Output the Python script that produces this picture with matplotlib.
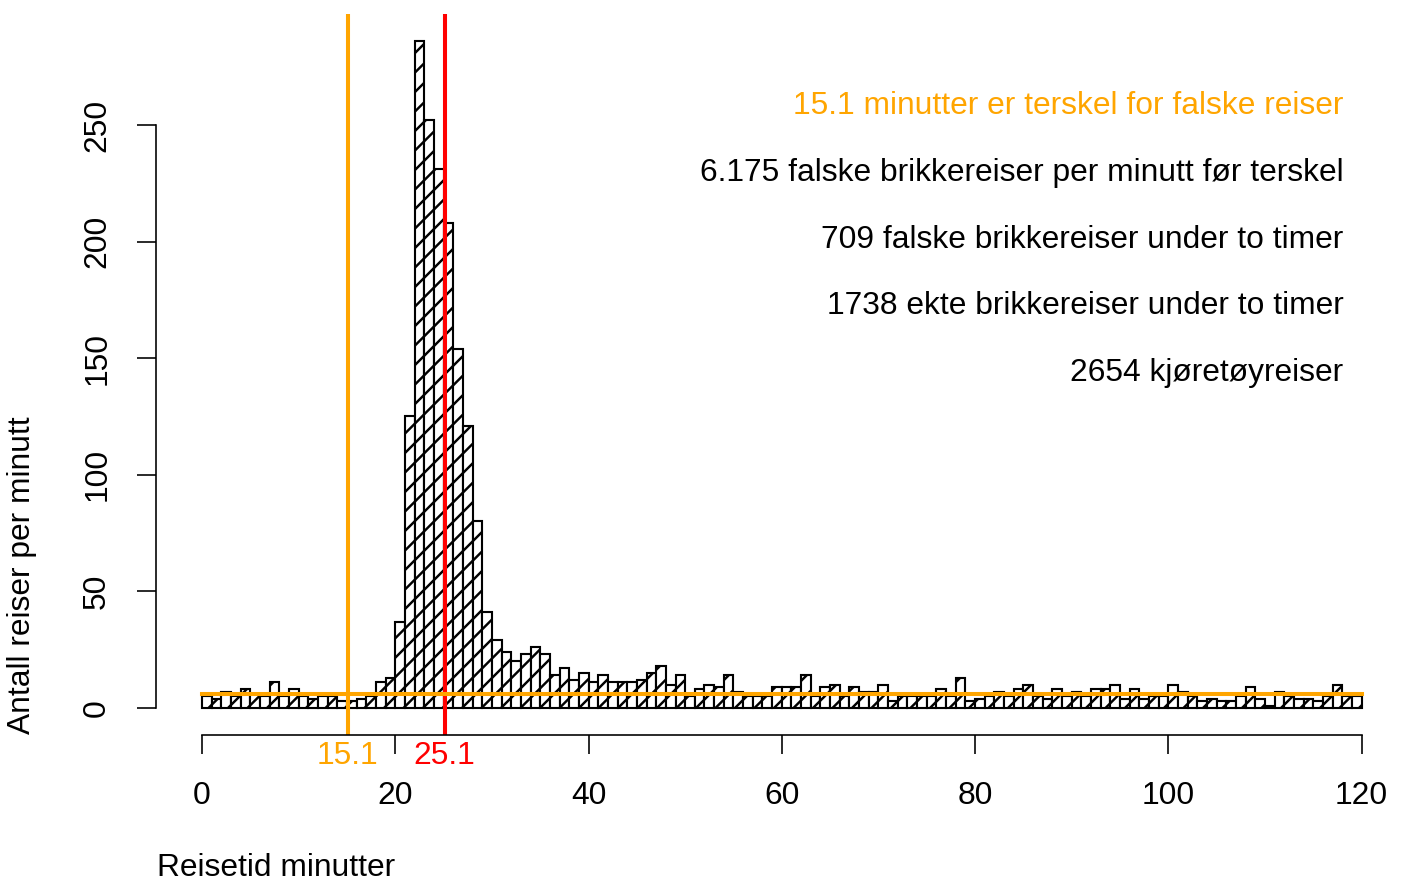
import numpy as np
import matplotlib
matplotlib.use("Agg")
import matplotlib.pyplot as plt

# reisetid i minutter, ett minutt per stolpe (0-120)
bin_edges = list(range(0, 121))
counts = [5, 4, 7, 5, 8, 6, 5, 11, 5, 8,
          5, 4, 5, 5, 3, 3, 4, 5, 11, 13,
          37, 125, 286, 252, 231, 208, 154, 121, 80, 41,
          29, 24, 20, 23, 26, 23, 14, 17, 12, 15,
          11, 14, 11, 11, 11, 12, 15, 18, 10, 14,
          5, 8, 10, 9, 14, 7, 5, 5, 5, 9,
          9, 9, 14, 5, 9, 10, 5, 9, 7, 7,
          10, 3, 5, 5, 5, 5, 8, 5, 13, 3,
          4, 5, 7, 5, 8, 10, 5, 4, 8, 5,
          7, 5, 8, 8, 10, 4, 8, 4, 5, 5,
          10, 7, 5, 3, 4, 3, 3, 5, 9, 4,
          1, 7, 5, 4, 4, 3, 5, 10, 5, 5]

threshold = 15.1
median_trip = 25.1
false_per_min = 6.175

x_ticks = [0, 20, 40, 60, 80, 100, 120]
y_ticks = [0, 50, 100, 150, 200, 250]

info_lines = ["15.1 minutter er terskel for falske reiser",
              "6.175 falske brikkereiser per minutt før terskel",
              "709 falske brikkereiser under to timer",
              "1738 ekte brikkereiser under to timer",
              "2654 kjøretøyreiser"]
info_colors = ["orange", "black", "black", "black", "black"]
info_y = [258, 229.3, 200.5, 172.2, 143.5]

plt.rcParams['font.family'] = ['Liberation Sans', 'DejaVu Sans']
plt.rcParams['hatch.linewidth'] = 1.5
FS = 19.5

DPI = 117
fig = plt.figure(figsize=(1405 / DPI, 882 / DPI), dpi=DPI)
ax = fig.add_axes([155.6 / 1405, 1 - 734.6 / 882, (1408 - 155.6) / 1405, (734.6 - 14.4) / 882])

lefts = np.array(bin_edges[:-1])
ax.bar(lefts, counts, width=1, align='edge', facecolor='white',
       edgecolor='black', linewidth=1.3, hatch='//')

ax.set_xlim(-4.8, 124.8)
ax.set_ylim(-11.44, 297.44)

ax.axvline(threshold, color='orange', linewidth=2.5)
ax.axvline(median_trip, color='red', linewidth=2.5)
ax.plot([0, 120], [false_per_min, false_per_min], color='orange', linewidth=2.5)

for txt, col, yy in zip(info_lines, info_colors, info_y):
    ax.text(118.1, yy, txt, color=col, fontsize=FS, ha='right', va='center')

ax.text(threshold, -20.6, "15.1", color='orange', fontsize=FS, ha='center', va='center', clip_on=False)
ax.text(median_trip, -20.6, "25.1", color='red', fontsize=FS, ha='center', va='center', clip_on=False)

for s in ['top', 'right']:
    ax.spines[s].set_visible(False)
ax.spines['bottom'].set_bounds(0, 120)
ax.spines['left'].set_bounds(0, 250)
ax.spines['bottom'].set_linewidth(1.0)
ax.spines['left'].set_linewidth(1.0)

ax.set_xticks(x_ticks)
ax.set_xticklabels([str(t) for t in x_ticks])
ax.set_yticks(y_ticks)
ax.set_yticklabels([str(t) for t in y_ticks], rotation=90, va='center')
ax.tick_params(axis='x', length=11.7, width=1.0, labelsize=FS, pad=17)
ax.tick_params(axis='y', length=11.7, width=1.0, labelsize=FS, pad=15)

fig.text(157 / 1405, 1 - 868 / 882, "Reisetid minutter", fontsize=FS, ha='left', va='center')
fig.text(22 / 1405, 1 - 575 / 882, "Antall reiser per minutt", fontsize=FS,
         rotation=90, ha='center', va='center')

fig.savefig("out.png", dpi=DPI)
